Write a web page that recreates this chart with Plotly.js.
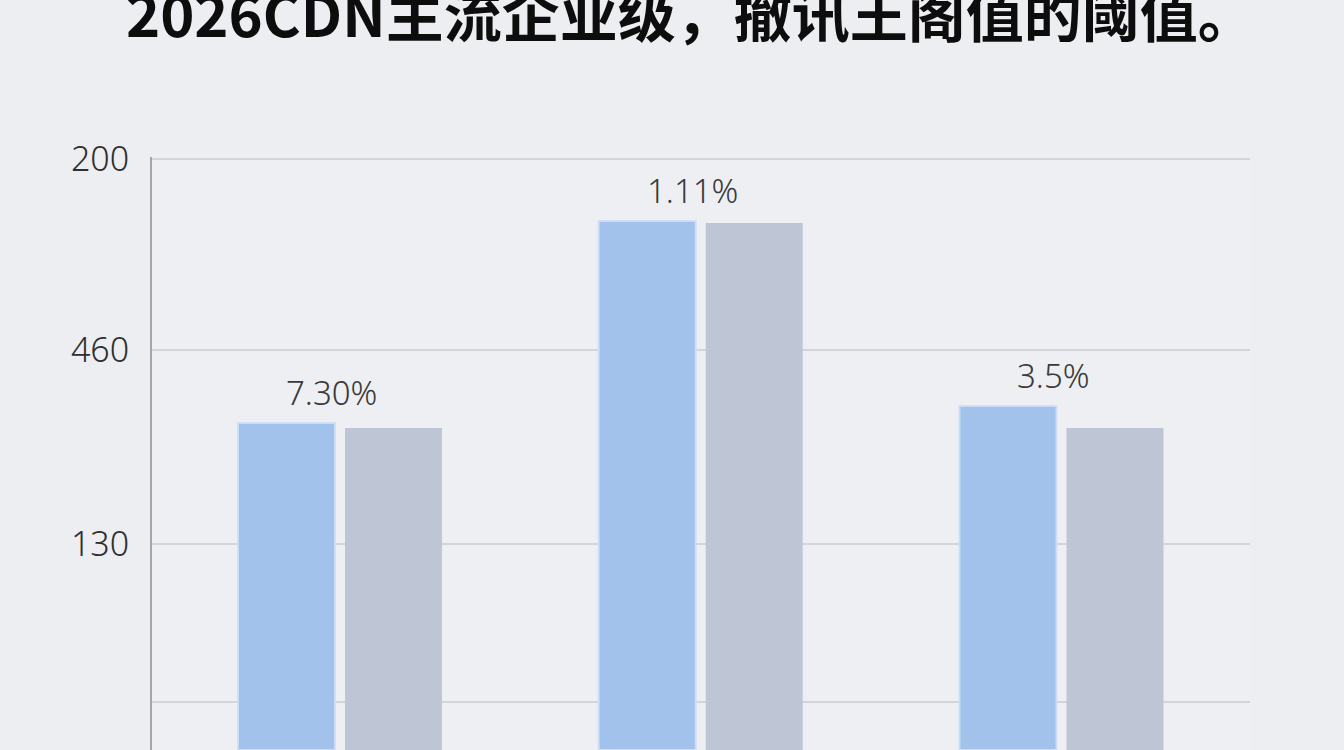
<!DOCTYPE html>
<html>
<head>
<meta charset="utf-8">
<script src="https://cdn.plot.ly/plotly-3.0.1.min.js"></script>
<style>
  html, body { margin: 0; padding: 0; overflow: hidden; background: #eceef2; }
  #chart { width: 1344px; height: 750px; }
</style>
</head>
<body>
<div id="chart"></div>
<script>
'use strict';

// data (bottom of the chart is cropped)
const categories = ['A', 'B', 'C'];
const blueValues = [327, 529, 344];
const grayValues = [322, 527, 322];
const barLabels = ['7.30%', '1.11%', '3.5%'];
const yTickVals = [48, 206, 400, 591];
const yTickText = ['', '130', '460', '200'];
const titleText = '2026CDN主流企业级，撤讯王阁值的阈值。';

const labelFont = { family: 'Noto Sans, Open Sans, sans-serif', size: 33, color: '#3a3a3a', weight: 300 };

let traces = [
    {
        type: 'bar',
        x: categories,
        y: blueValues,
        marker: { color: '#a3c2eb', line: { color: 'rgba(205,222,246,0.9)', width: 2 } },
        hoverinfo: 'none'
    },
    {
        type: 'bar',
        x: categories,
        y: grayValues,
        marker: { color: '#bec5d4', line: { width: 0 } },
        hoverinfo: 'none'
    }
];

let annotations = categories.map((c, i) => ({
    x: c,
    y: blueValues[i],
    xref: 'x',
    yref: 'y',
    text: barLabels[i],
    showarrow: false,
    xanchor: 'center',
    yanchor: 'middle',
    xshift: -8,
    yshift: 31,
    font: labelFont
}));

let layout = {
    width: 1344,
    height: 750,
    paper_bgcolor: '#eceef2',
    plot_bgcolor: '#edeff3',
    showlegend: false,
    margin: { l: 152, r: 94, t: 157, b: 0, pad: 0 },
    barmode: 'group',
    bargap: 0.4068,
    bargroupgap: 0.0935,
    title: {
        text: titleText,
        font: { family: 'Noto Sans CJK SC, sans-serif', size: 58, color: '#0d0d0d', weight: 'bold' },
        xref: 'container',
        yref: 'container',
        x: 0.514,
        xanchor: 'center',
        y: 0.978,
        yanchor: 'middle'
    },
    xaxis: {
        type: 'category',
        range: [-0.5211, 2.5226],
        showticklabels: false,
        showgrid: false,
        zeroline: false,
        showline: false,
        ticks: ''
    },
    yaxis: {
        range: [0, 593],
        tickmode: 'array',
        tickvals: yTickVals,
        ticktext: yTickText,
        tickfont: { family: 'Noto Sans, Open Sans, sans-serif', size: 34, color: '#2f2f2f', weight: 300 },
        ticks: '',
        ticklabelstandoff: 14,
        showgrid: true,
        gridcolor: '#d2d5db',
        gridwidth: 1.5,
        zeroline: false,
        showline: true,
        linecolor: '#a2a6ad',
        linewidth: 2
    },
    annotations: annotations
};

Plotly.newPlot('chart', traces, layout, { staticPlot: true, displayModeBar: false });
</script>
</body>
</html>
